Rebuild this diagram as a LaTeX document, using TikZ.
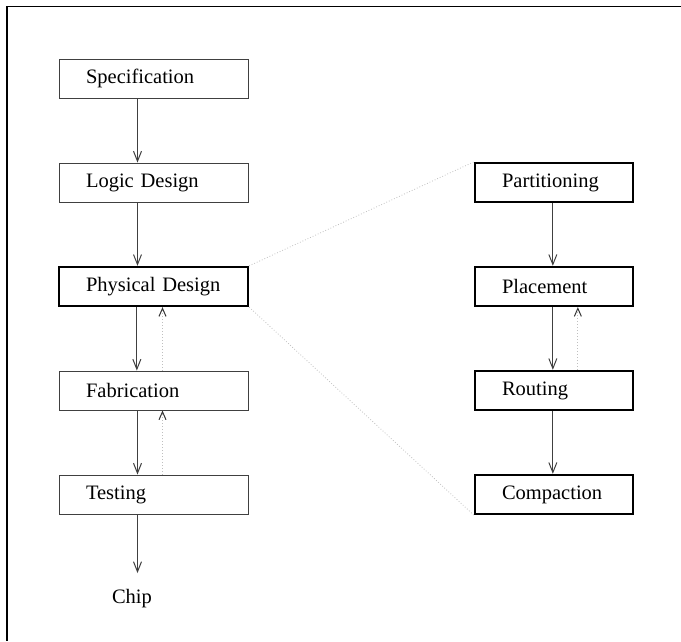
\documentclass[tikz,border=0pt]{standalone}
\usepackage{fontspec}
\setmainfont{Liberation Serif}
\usetikzlibrary{arrows.meta}

\tikzset{
  stage/.style={draw=black!75, line width=1pt, minimum height=39pt,
    text width=135pt, inner xsep=27pt, inner ysep=0pt, align=left,
    font=\fontsize{20.5}{24}\selectfont},
  keystage/.style={stage, draw=black, line width=2.3pt},
  substage/.style={keystage, text width=104pt},
  flow/.style={draw=black!75, line width=1pt,
    -{Straight Barb[length=10pt,width=8pt,line width=1pt]}},
  back/.style={draw=black!25, line width=1pt, dotted,
    -{Straight Barb[length=8pt,width=7pt,line width=1pt,color=black!80,sep=0pt]}},
  zoomline/.style={draw=black!25, line width=0.8pt, dotted},
  frameline/.style={draw=black, line width=1.3pt},
}

\begin{document}
\begin{tikzpicture}[x=1pt, y=-1pt]
  \useasboundingbox (0,0) rectangle (681,641);

  % page frame: top and left edges
  \draw[frameline] (681,6.5) -- (7,6.5) -- (7,641);

  % design flow
  \node[stage]    (spec)  at (153.5,78.5)  {Specification};
  \node[stage]    (logic) at (153.5,182.5) {Logic Design};
  \node[keystage] (phys)  at (153.5,286.5) {Physical Design};
  \node[stage]    (fab)   at (153.5,390.5) {Fabrication};
  \node[stage]    (test)  at (153.5,494.5) {Testing};
  \node[font=\fontsize{20.5}{24}\selectfont, inner sep=0pt] (chip) at (132,599) {Chip};
  \coordinate (chiptip) at (138,573);

  % physical design steps
  \node[substage] (part)  at (554,182.5) {Partitioning};
  \node[substage] (place) at (554,286.5) {Placement};
  \node[substage] (route) at (554,390.5) {Routing};
  \node[substage] (comp)  at (554,494.5) {Compaction};

  % forward arrows (vertical, 79pt in from the left edge of the box)
  \foreach \a/\b in {spec/logic, logic/phys, phys/fab, fab/test,
                     part/place, place/route, route/comp}
    \draw[flow] ([xshift=79pt]\a.south west) coordinate (s) -- (s |- \b.north);
  \draw[flow] ([xshift=79pt]test.south west) coordinate (s) -- (s |- chiptip);

  % feedback arrows
  \foreach \a/\b in {fab/phys, test/fab, route/place}
    \draw[back] ([xshift=104pt]\a.north west) coordinate (s) -- (s |- \b.south);

  % expansion of physical design
  \draw[zoomline] (phys.north east) -- (part.north west);
  \draw[zoomline] (phys.south east) -- (comp.south west);
\end{tikzpicture}
\end{document}
